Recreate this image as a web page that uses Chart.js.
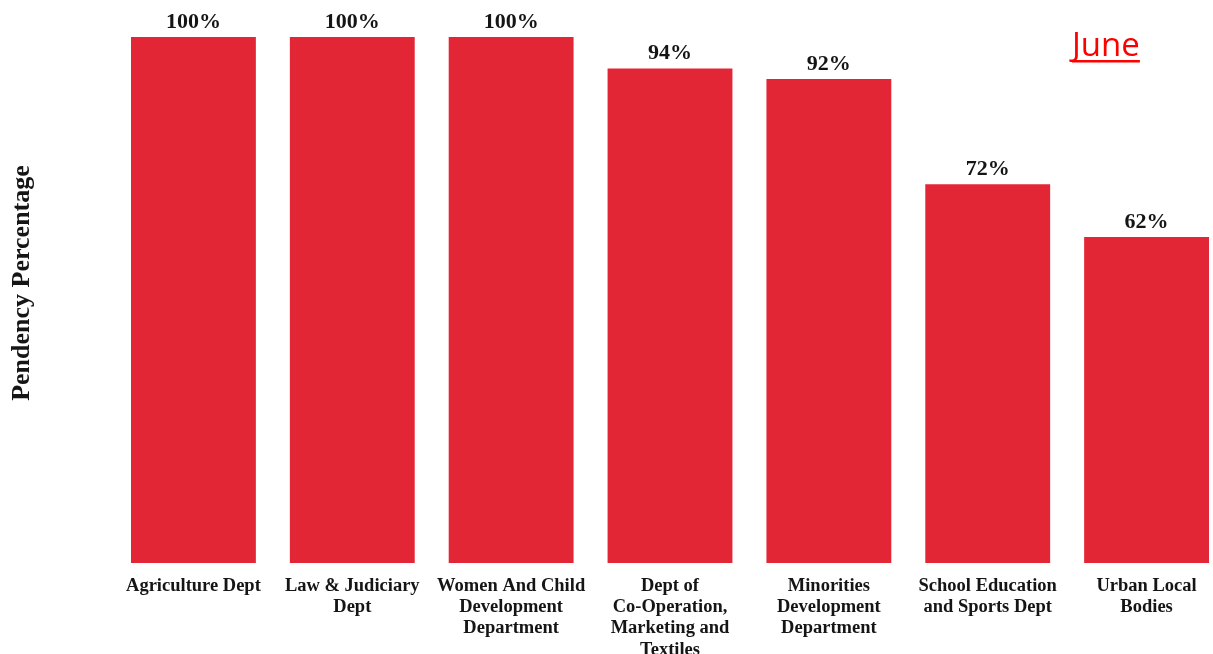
<!DOCTYPE html>
<html>
<head>
<meta charset="utf-8">
<script src="https://cdn.jsdelivr.net/npm/chart.js@4/dist/chart.umd.min.js"></script>
<style>
  html, body { margin: 0; padding: 0; background: #fff; overflow: hidden; }
  #wrap { position: relative; width: 1240px; height: 654px; }
</style>
</head>
<body>
<div id="wrap"><canvas id="bar-chart"></canvas></div>
<script>
// Pendency by department, June
var departments = [
    ["Agriculture Dept"],
    ["Law & Judiciary", "Dept"],
    ["Women And Child", "Development", "Department"],
    ["Dept of", "Co-Operation,", "Marketing and", "Textiles"],
    ["Minorities", "Development", "Department"],
    ["School Education", "and Sports Dept"],
    ["Urban Local", "Bodies"]
];
var pendency = [100, 100, 100, 94, 92, 72, 62];
var monthLabel = "June";
var axisTitle = "Pendency Percentage";

var serif = "'Liberation Serif', 'DejaVu Serif', serif";

// value labels above bars, y title and month tag
var extras = {
    id: 'extras',
    afterDatasetsDraw: function(chart) {
        var ctx = chart.ctx;
        var meta = chart.getDatasetMeta(0);
        ctx.save();
        ctx.fillStyle = '#151515';
        ctx.font = "bold 22px " + serif;
        ctx.textAlign = 'center';
        ctx.textBaseline = 'bottom';
        meta.data.forEach(function(bar, i) {
            ctx.fillText(pendency[i] + '%', bar.x, bar.y - 4);
        });

        ctx.translate(22, 283);
        ctx.rotate(-Math.PI / 2);
        ctx.font = "bold 26px " + serif;
        ctx.textBaseline = 'middle';
        ctx.fillText(axisTitle, 0, 0);
        ctx.restore();

        ctx.save();
        ctx.fillStyle = '#ff0000';
        ctx.font = "33px 'Open Sans', 'Liberation Sans', sans-serif";
        ctx.textAlign = 'left';
        ctx.textBaseline = 'alphabetic';
        ctx.fillText(monthLabel, 1072, 56);
        var w = ctx.measureText(monthLabel).width;
        ctx.fillRect(1072, 60, w, 2.5);
        ctx.restore();
    }
};

new Chart(document.getElementById('bar-chart'), {
    type: 'bar',
    data: {
        labels: departments,
        datasets: [{
            data: pendency,
            backgroundColor: '#e32636',
            borderWidth: 0,
            barPercentage: 0.786,
            categoryPercentage: 1
        }]
    },
    options: {
        responsive: true,
        maintainAspectRatio: false,
        animation: false,
        layout: { padding: { left: 114, right: 14, top: 37, bottom: 0 } },
        plugins: {
            legend: { display: false },
            tooltip: { enabled: false }
        },
        scales: {
            x: {
                grid: { display: false },
                border: { display: false },
                ticks: {
                    color: '#151515',
                    font: { family: serif, size: 18.5, weight: 'bold', lineHeight: 1.16 },
                    padding: 4,
                    maxRotation: 0,
                    autoSkip: false
                },
                afterFit: function(s) { s.height = 91; }
            },
            y: {
                display: false,
                min: 0,
                max: 100
            }
        }
    },
    plugins: [extras]
});
</script>
</body>
</html>
